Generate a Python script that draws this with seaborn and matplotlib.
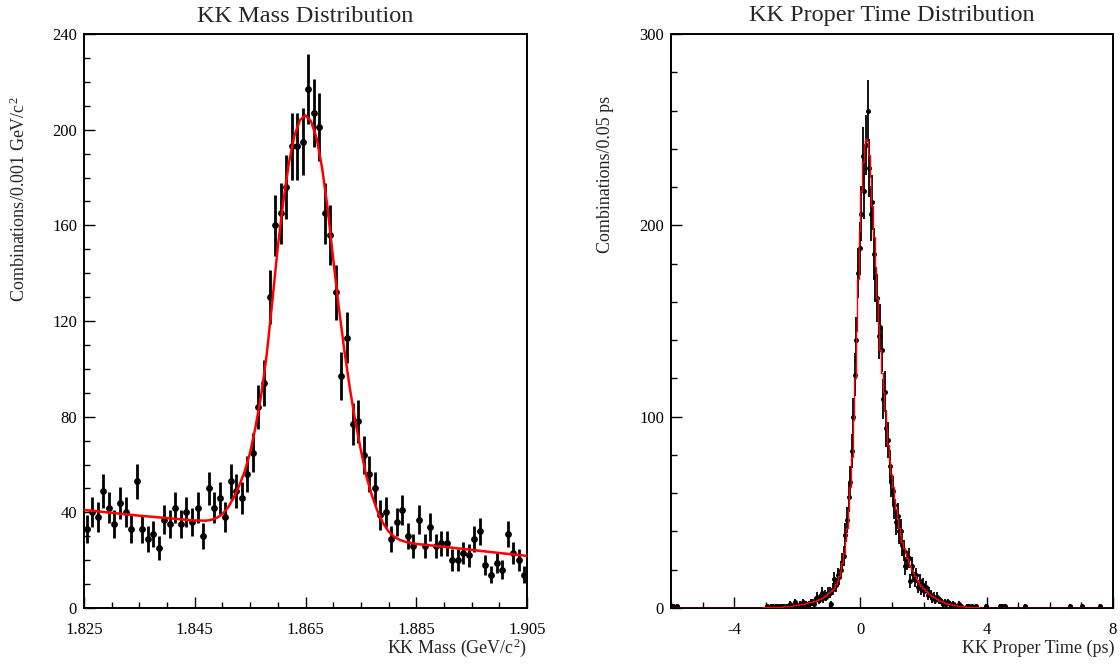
import numpy as np
import matplotlib
matplotlib.use("Agg")
import matplotlib.pyplot as plt
import seaborn as sns
from matplotlib.ticker import MultipleLocator, FixedLocator

# ---------------- KK mass distribution ----------------
mass_lo, mass_hi, mass_bin = 1.825, 1.905, 0.001
mass_counts = [33, 40, 38, 49, 42, 35, 44, 40, 33, 53,
               33, 29, 31, 25, 37, 35, 42, 35, 40, 36,
               42, 30, 50, 42, 46, 38, 53, 49, 46, 56,
               65, 84, 94, 130, 160, 165, 176, 193, 193, 195,
               217, 207, 201, 165, 156, 132, 97, 113, 77, 78,
               64, 56, 50, 39, 40, 29, 36, 41, 30, 26,
               37, 26, 34, 26, 27, 27, 20, 20, 23, 22,
               29, 32, 18, 14, 19, 16, 31, 23, 20, 14]
mass_fit_x = [1.825, 1.830, 1.835, 1.840, 1.845, 1.847, 1.848, 1.849,
              1.850, 1.851, 1.852, 1.853, 1.854, 1.855, 1.856, 1.857, 1.858,
              1.859, 1.860, 1.861, 1.862, 1.863, 1.864, 1.865, 1.866, 1.867,
              1.868, 1.869, 1.870, 1.871, 1.872, 1.873, 1.874, 1.875, 1.876,
              1.877, 1.878, 1.879, 1.880, 1.881, 1.882, 1.883, 1.884, 1.885,
              1.890, 1.895, 1.900, 1.905]
mass_fit_y = [41.0, 39.8, 38.6, 37.6, 36.6, 36.5, 36.9, 37.7,
              39.3, 42.0, 46.0, 51.0, 57.0, 65.0, 76.0, 89.0, 106.0,
              128.0, 151.0, 170.0, 186.0, 197.5, 204.0, 206.0, 203.5, 196.5,
              184.0, 167.0, 146.0, 126.0, 108.0, 92.0, 78.0, 66.0, 55.0,
              47.0, 40.5, 35.5, 32.0, 29.8, 28.5, 27.7, 27.2, 26.8,
              25.6, 24.3, 23.0, 21.8]
mass_xticks = [1.825, 1.845, 1.865, 1.885, 1.905]
mass_xticklabels = ["1.825", "1.845", "1.865", "1.885", "1.905"]
mass_yticks = [0, 40, 80, 120, 160, 200, 240]

# ---------------- KK proper time distribution ----------------
time_lo, time_hi, time_bin = -6.0, 8.0, 0.05
time_counts = [
    0, 1, 0, 1, 0, 0, 0, 0, 0, 0,
    0, 0, 0, 0, 0, 0, 0, 0, 0, 0,
    0, 0, 0, 0, 0, 0, 0, 0, 0, 0,
    0, 0, 0, 0, 0, 0, 0, 0, 0, 0,
    0, 0, 0, 0, 0, 0, 0, 0, 0, 0,
    0, 0, 0, 0, 0, 0, 0, 0, 0, 0,
    1, 0, 0, 1, 1, 0, 1, 1, 0, 1,
    1, 1, 0, 1, 1, 2, 1, 1, 3, 1,
    1, 2, 1, 3, 2, 2, 1, 2, 3, 3,
    2, 4, 6, 4, 5, 8, 5, 7, 6, 8,
    8, 2, 10, 15, 12, 17, 16, 20, 24, 27,
    38, 46, 58, 66, 82, 100, 122, 140, 175, 188,
    206, 236, 218, 242, 260, 230, 206, 212, 185, 173,
    162, 142, 147, 135, 109, 113, 94, 88, 74, 66,
    61, 54, 45, 48, 40, 40, 33, 30, 22, 25,
    26, 14, 22, 18, 15, 17, 11, 14, 10, 12,
    9, 11, 7, 8, 7, 5, 6, 4, 6, 4,
    4, 3, 2, 3, 2, 3, 2, 1, 2, 1,
    1, 1, 2, 1, 0, 0, 0, 1, 1, 0,
    1, 0, 0, 1, 0, 0, 0, 0, 0, 1,
    0, 0, 0, 0, 0, 0, 0, 0, 1, 1,
    0, 1, 0, 0, 0, 0, 0, 0, 0, 0,
    0, 0, 0, 0, 1, 0, 0, 0, 0, 0,
    0, 0, 0, 0, 0, 0, 0, 0, 0, 0,
    0, 0, 0, 0, 0, 0, 0, 0, 0, 0,
    0, 0, 1, 0, 0, 0, 0, 0, 0, 0,
    1, 0, 0, 0, 0, 0, 0, 0, 0, 0,
    0, 1, 0, 0, 0, 0, 0, 0, 0, 0]
time_fit = [
    0.0, 0.0, 0.0, 0.0, 0.0, 0.0, 0.0, 0.0, 0.0, 0.0,
    0.0, 0.0, 0.0, 0.0, 0.0, 0.0, 0.0, 0.0, 0.0, 0.0,
    0.01, 0.01, 0.01, 0.01, 0.01, 0.02, 0.02, 0.02, 0.02, 0.03,
    0.03, 0.03, 0.04, 0.04, 0.05, 0.05, 0.06, 0.06, 0.07, 0.08,
    0.08, 0.09, 0.1, 0.1, 0.11, 0.12, 0.13, 0.14, 0.15, 0.16,
    0.17, 0.18, 0.19, 0.2, 0.21, 0.22, 0.24, 0.25, 0.27, 0.28,
    0.3, 0.35, 0.4, 0.4, 0.45, 0.5, 0.55, 0.6, 0.65, 0.7,
    0.75, 0.8, 0.9, 1.0, 1.1, 1.2, 1.3, 1.4, 1.5, 1.6,
    1.7, 1.85, 2.0, 2.2, 2.3, 2.5, 2.7, 2.9, 3.1, 3.3,
    3.6, 3.9, 4.2, 4.5, 4.9, 5.3, 5.8, 6.3, 6.9, 7.6,
    8.3, 9.1, 10.0, 11.0, 12.3, 14.0, 16.5, 19.5, 23.5, 28.5,
    35.0, 42.0, 51.0, 63.0, 79.0, 98.0, 120.0, 145.0, 172.0, 197.0,
    218.0, 233.0, 242.0, 245.0, 244.0, 237.0, 225.0, 210.0, 194.0, 178.0,
    162.0, 148.0, 135.0, 123.0, 113.0, 103.0, 94.0, 85.0, 77.0, 70.0,
    63.0, 57.0, 51.5, 46.5, 42.0, 38.0, 34.5, 31.5, 28.8, 26.3,
    24.0, 22.0, 20.0, 18.3, 16.8, 15.3, 14.0, 12.8, 11.7, 10.7,
    9.8, 9.0, 8.2, 7.5, 6.8, 6.2, 5.6, 5.1, 4.6, 4.2,
    3.8, 3.4, 3.1, 2.8, 2.5, 2.3, 2.1, 1.9, 1.7, 1.5,
    1.35, 1.2, 1.1, 1.0, 0.9, 0.8, 0.7, 0.65, 0.6, 0.5,
    0.45, 0.4, 0.35, 0.3, 0.3, 0.25, 0.2, 0.2, 0.15, 0.15,
    0.1, 0.1, 0.1, 0.08, 0.08, 0.07, 0.06, 0.06, 0.05, 0.05,
    0.04, 0.04, 0.03, 0.03, 0.03, 0.02, 0.02, 0.02, 0.02, 0.01,
    0.01, 0.01, 0.01, 0.01, 0.0, 0.0, 0.0, 0.0, 0.0, 0.0,
    0.0, 0.0, 0.0, 0.0, 0.0, 0.0, 0.0, 0.0, 0.0, 0.0,
    0.0, 0.0, 0.0, 0.0, 0.0, 0.0, 0.0, 0.0, 0.0, 0.0,
    0.0, 0.0, 0.0, 0.0, 0.0, 0.0, 0.0, 0.0, 0.0, 0.0,
    0.0, 0.0, 0.0, 0.0, 0.0, 0.0, 0.0, 0.0, 0.0, 0.0,
    0.0, 0.0, 0.0, 0.0, 0.0, 0.0, 0.0, 0.0, 0.0, 0.0]
time_xticks = [-4, 0, 4, 8]
time_xticklabels = ["-4", "0", "4", "8"]
time_yticks = [0, 100, 200, 300]

# ---------------- style ----------------
sns.set_theme(style="ticks")
plt.rcParams["font.family"] = ["Liberation Serif", "DejaVu Serif"]
plt.rcParams["mathtext.fontset"] = "custom"
plt.rcParams["mathtext.rm"] = "Liberation Serif"
plt.rcParams["mathtext.it"] = "Liberation Serif:italic"

W, H = 1120, 664
fig = plt.figure(figsize=(W / 100, H / 100), dpi=100)
fig.patch.set_facecolor("white")


def px_axes(x0, x1, y0, y1):
    return fig.add_axes([x0 / W, 1 - y1 / H, (x1 - x0) / W, (y1 - y0) / H])


ax1 = px_axes(84, 527, 34, 608)
ax2 = px_axes(671, 1113, 34, 608)

TICK_FS = 12
LABEL_FS = 13
TITLE_FS = 17.5


def style_axes(ax):
    ax.set_facecolor("white")
    for s in ax.spines.values():
        s.set_linewidth(1.4)
        s.set_color("black")
    ax.tick_params(which="both", direction="in", top=False, right=False,
                   colors="black", labelsize=TICK_FS, width=1.0)
    ax.tick_params(which="major", length=8)
    ax.tick_params(which="minor", length=4.3)
    ax.tick_params(axis="y", pad=5)
    ax.tick_params(axis="x", pad=10)
    ax.grid(False)
    ax.set_xlabel("")
    ax.set_ylabel("")


# ---- left panel ----
m_centers = np.array([mass_lo + (i + 0.5) * mass_bin for i in range(len(mass_counts))])
m_counts = np.array(mass_counts, dtype=float)
ax1.errorbar(m_centers, m_counts, yerr=np.sqrt(m_counts), fmt="none",
             ecolor="black", elinewidth=2.0, capsize=0, zorder=2)
sns.scatterplot(x=m_centers, y=m_counts, ax=ax1, color="black", s=24,
                linewidth=0, zorder=3, legend=False)
sns.lineplot(x=mass_fit_x, y=mass_fit_y, ax=ax1, color="red", lw=1.8,
             estimator=None, sort=False, zorder=4, legend=False)
ax1.set_xlim(mass_lo, mass_hi)
ax1.set_ylim(0, 240)
ax1.xaxis.set_major_locator(FixedLocator(mass_xticks))
ax1.set_xticklabels(mass_xticklabels)
ax1.xaxis.set_minor_locator(MultipleLocator(0.005))
ax1.yaxis.set_major_locator(FixedLocator(mass_yticks))
ax1.yaxis.set_minor_locator(MultipleLocator(10))
style_axes(ax1)

# ---- right panel ----
t_centers = np.array([time_lo + (j + 0.5) * time_bin for j in range(len(time_counts))])
t_counts = np.array(time_counts, dtype=float)
nz = t_counts > 0
ax2.errorbar(t_centers[nz], t_counts[nz], yerr=np.sqrt(t_counts[nz]), fmt="none",
             ecolor="black", elinewidth=1.3, capsize=0, zorder=2)
sns.scatterplot(x=t_centers[nz], y=t_counts[nz], ax=ax2, color="black", s=13,
                linewidth=0, zorder=3, legend=False)
sns.lineplot(x=t_centers, y=time_fit, ax=ax2, color="red", lw=1.0,
             estimator=None, sort=False, drawstyle="steps-mid", zorder=4, legend=False)
ax2.set_xlim(time_lo, time_hi)
ax2.set_ylim(0, 300)
ax2.xaxis.set_major_locator(FixedLocator(time_xticks))
ax2.set_xticklabels(time_xticklabels)
ax2.xaxis.set_minor_locator(MultipleLocator(1))
ax2.yaxis.set_major_locator(FixedLocator(time_yticks))
ax2.yaxis.set_minor_locator(MultipleLocator(20))
style_axes(ax2)

# ---- titles and axis labels ----
fig.text(305.5 / W, 1 - 16 / H, "KK Mass Distribution", ha="center", va="center",
         fontsize=TITLE_FS)
fig.text(892 / W, 1 - 16 / H, "KK Proper Time Distribution", ha="center", va="center",
         fontsize=TITLE_FS)
fig.text(527 / W, 1 - 648 / H, "KK Mass (GeV/c$^{2}$)", ha="right", va="center",
         fontsize=LABEL_FS)
fig.text(1114 / W, 1 - 648 / H, "KK Proper Time (ps)", ha="right", va="center",
         fontsize=LABEL_FS)
fig.text(19 / W, 1 - 96 / H, "Combinations/0.001 GeV/c$^{2}$", ha="center", va="top",
         rotation=90, fontsize=LABEL_FS)
fig.text(606 / W, 1 - 96 / H, "Combinations/0.05 ps", ha="center", va="top",
         rotation=90, fontsize=LABEL_FS)

fig.savefig("out.png", dpi=100, facecolor="white")
